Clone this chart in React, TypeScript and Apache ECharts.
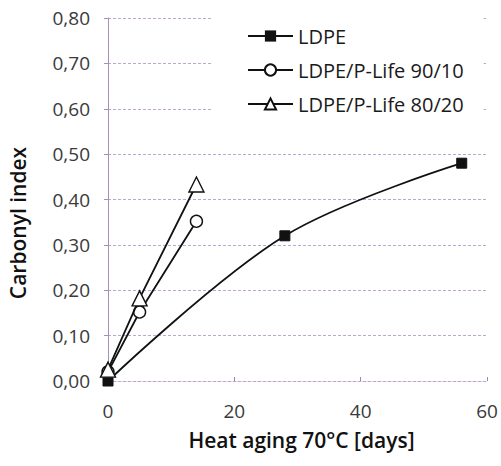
import React, { useEffect, useRef } from "react";
import * as echarts from "echarts";

const seriesNames = ["LDPE", "LDPE/P-Life 90/10", "LDPE/P-Life 80/20"];
const ldpeDays = [0, 28, 56];
const ldpeValues = [0.0, 0.32, 0.48];
const mix9010Days = [0, 5, 14];
const mix9010Values = [0.02, 0.152, 0.352];
const mix8020Days = [0, 5, 14];
const mix8020Values = [0.025, 0.182, 0.433];
const yTicks = [0, 0.1, 0.2, 0.3, 0.4, 0.5, 0.6, 0.7, 0.8];
const xTicks = [0, 20, 40, 60];

const FONT = "'Open Sans', 'Noto Sans', sans-serif";
const GRID_COLOR = "#bda6d3";

function pairs(xs: number[], ys: number[]) {
  return xs.map((x, i) => [x, ys[i]]);
}

export default function App() {
  const ref = useRef<HTMLDivElement>(null);
  useEffect(() => {
    if (!ref.current) return;
    const chart = echarts.init(ref.current, null, { renderer: "svg" });
    const lineStyle = { color: "#111", width: 1.8 };
    chart.setOption({
      animation: false,
      backgroundColor: "#fff",
      grid: { left: 108, right: 14, top: 18, bottom: 85 },
      legend: {
        orient: "vertical",
        left: 212,
        top: 18,
        padding: [8, 20, 8, 35],
        backgroundColor: "#fff",
        itemWidth: 45,
        itemHeight: 14,
        itemGap: 14,
        textStyle: { fontFamily: FONT, fontSize: 20, color: "#1a1a1a", padding: [0, 0, 0, 0] },
        data: seriesNames,
      },
      xAxis: {
        type: "value",
        min: xTicks[0],
        max: xTicks[xTicks.length - 1],
        interval: 20,
        name: "Heat aging 70°C [days]",
        nameLocation: "middle",
        nameGap: 48,
        nameTextStyle: { fontFamily: FONT, fontSize: 21, fontWeight: 600, color: "#111", padding: [0, 0, 0, 8] },
        axisLine: { show: true, lineStyle: { color: GRID_COLOR, width: 1, type: [3, 2] } },
        axisTick: { show: true, inside: true, length: 4, lineStyle: { color: "#9c86b3" } },
        axisLabel: { margin: 20, fontFamily: FONT, fontSize: 19, color: "#3a3a3a" },
        splitLine: { show: false },
      },
      yAxis: {
        type: "value",
        min: yTicks[0],
        max: yTicks[yTicks.length - 1],
        interval: 0.1,
        axisLine: { show: true, lineStyle: { color: "#a58fbf", width: 1 } },
        axisTick: { show: true, inside: false, length: 4, lineStyle: { color: "#a58fbf" } },
        axisLabel: {
          margin: 18,
          fontFamily: FONT,
          fontSize: 19,
          color: "#3a3a3a",
          formatter: (v: number) => v.toFixed(2).replace(".", ","),
        },
        splitLine: { show: true, lineStyle: { color: GRID_COLOR, width: 1, type: [3, 2] } },
      },
      graphic: [
        {
          type: "text",
          x: 18,
          y: 223,
          rotation: Math.PI / 2,
          style: {
            text: "Carbonyl index",
            font: `600 21px ${FONT}`,
            fill: "#111",
            align: "center",
            verticalAlign: "middle",
          },
        },
      ],
      series: [
        {
          name: seriesNames[0],
          type: "line",
          data: pairs(ldpeDays, ldpeValues),
          smooth: 0.35,
          symbol: "rect",
          symbolSize: 10,
          itemStyle: { color: "#111", borderColor: "#111" },
          lineStyle,
          z: 2,
        },
        {
          name: seriesNames[1],
          type: "line",
          data: pairs(mix9010Days, mix9010Values),
          symbol: "circle",
          symbolSize: 12,
          itemStyle: { color: "#fff", borderColor: "#111", borderWidth: 1.4 },
          lineStyle,
          z: 3,
        },
        {
          name: seriesNames[2],
          type: "line",
          data: pairs(mix8020Days, mix8020Values),
          symbol: "triangle",
          symbolSize: 15,
          itemStyle: { color: "#fff", borderColor: "#111", borderWidth: 1.4 },
          lineStyle,
          z: 4,
        },
      ],
    });
    return () => chart.dispose();
  }, []);
  return (
    <div
      ref={ref}
      style={{ position: "fixed", left: 0, top: 0, width: 501, height: 466, background: "#fff" }}
    />
  );
}
